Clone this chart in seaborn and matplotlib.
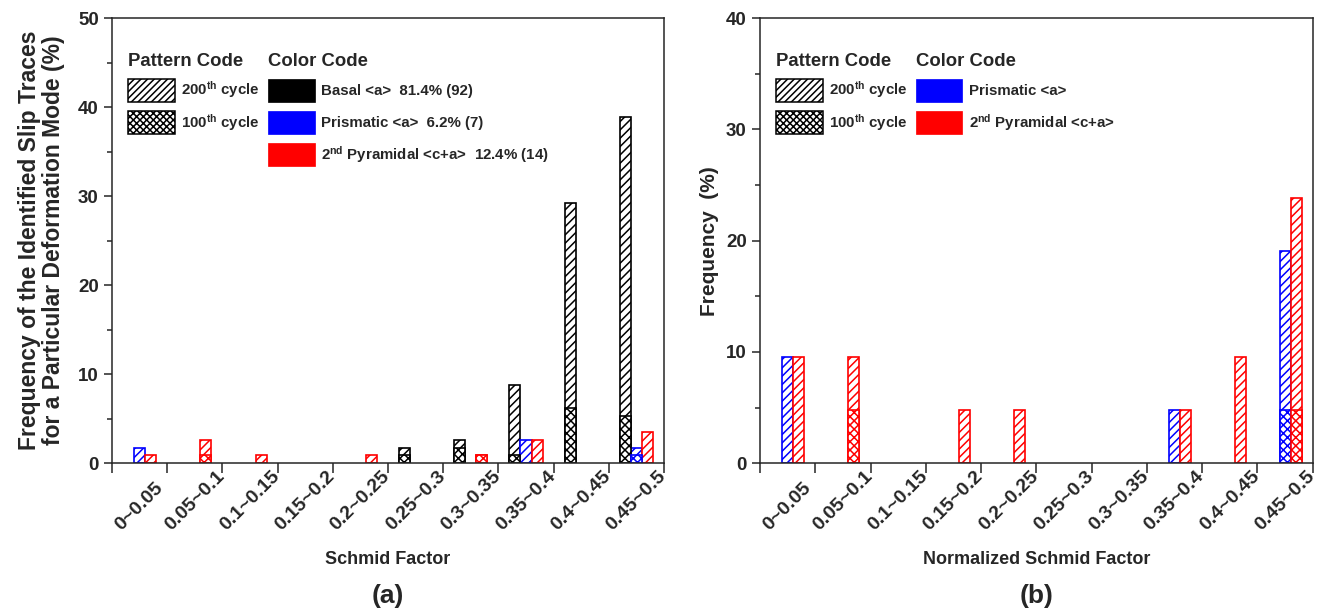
import numpy as np
import pandas as pd
import matplotlib
matplotlib.use("Agg")
import matplotlib.pyplot as plt
from matplotlib.patches import Patch
from matplotlib.ticker import MultipleLocator
import seaborn as sns

# ---- data -------------------------------------------------------------
bins = ["0~0.05", "0.05~0.1", "0.1~0.15", "0.15~0.2", "0.2~0.25",
        "0.25~0.3", "0.3~0.35", "0.35~0.4", "0.4~0.45", "0.45~0.5"]
modes = ["Basal", "Prismatic", "Pyramidal"]
mode_colors = {"Basal": "#000000", "Prismatic": "#0000FF", "Pyramidal": "#FF0000"}

# (a) share of all identified slip traces (113 traces), %
a_basal_200 = [0, 0, 0, 0, 0, 1.770, 2.655, 8.850, 29.204, 38.938]
a_basal_100 = [0, 0, 0, 0, 0, 0.885, 1.770, 0.885, 6.195, 5.310]
a_prism_200 = [1.770, 0, 0, 0, 0, 0, 0, 2.655, 0, 1.770]
a_prism_100 = [0, 0, 0, 0, 0, 0, 0, 0, 0, 0.885]
a_pyr_200 = [0.885, 2.655, 0.885, 0, 0.885, 0, 0.885, 2.655, 0, 3.540]
a_pyr_100 = [0, 0.885, 0, 0, 0, 0, 0.885, 0, 0, 0]

# (b) non-basal traces against normalized Schmid factor (21 traces), %
b_basal_200 = [0] * 10
b_basal_100 = [0] * 10
b_prism_200 = [9.524, 0, 0, 0, 0, 0, 0, 4.762, 0, 19.048]
b_prism_100 = [0, 0, 0, 0, 0, 0, 0, 0, 0, 4.762]
b_pyr_200 = [9.524, 9.524, 0, 4.762, 4.762, 0, 0, 4.762, 9.524, 23.810]
b_pyr_100 = [0, 4.762, 0, 0, 0, 0, 0, 0, 0, 4.762]

a_color_labels = ["Basal <a>  81.4% (92)", "Prismatic <a>  6.2% (7)",
                  r"2$^{\mathbf{nd}}$ Pyramidal <c+a>  12.4% (14)"]
b_color_labels = ["Prismatic <a>", r"2$^{\mathbf{nd}}$ Pyramidal <c+a>"]
cycle_labels = [r"200$^{\mathbf{th}}$ cycle", r"100$^{\mathbf{th}}$ cycle"]


def long_table(series):
    rows = []
    for (mode, cycle), vals in series.items():
        for b, v in zip(bins, vals):
            rows.append({"bin": b, "mode": mode, "cycle": cycle, "value": v})
    return pd.DataFrame(rows)


df_a = long_table({("Basal", "200"): a_basal_200, ("Basal", "100"): a_basal_100,
                   ("Prismatic", "200"): a_prism_200, ("Prismatic", "100"): a_prism_100,
                   ("Pyramidal", "200"): a_pyr_200, ("Pyramidal", "100"): a_pyr_100})
df_b = long_table({("Basal", "200"): b_basal_200, ("Basal", "100"): b_basal_100,
                   ("Prismatic", "200"): b_prism_200, ("Prismatic", "100"): b_prism_100,
                   ("Pyramidal", "200"): b_pyr_200, ("Pyramidal", "100"): b_pyr_100})

# ---- style ------------------------------------------------------------
sns.set_style("ticks")
plt.rcParams["font.family"] = ["Liberation Sans", "DejaVu Sans"]
plt.rcParams["font.weight"] = "bold"
plt.rcParams["mathtext.fontset"] = "custom"
plt.rcParams["mathtext.rm"] = "Liberation Sans:bold"
plt.rcParams["mathtext.bf"] = "Liberation Sans:bold"
plt.rcParams["mathtext.it"] = "Liberation Sans:bold:italic"
plt.rcParams["hatch.linewidth"] = 1.1
plt.rcParams["axes.linewidth"] = 1.1

fig = plt.figure(figsize=(13.24, 6.11), dpi=100)
ax_a = fig.add_axes([0.0846, 0.2417, 0.4169, 0.7288])
ax_b = fig.add_axes([0.5740, 0.2417, 0.4175, 0.7288])


def draw_bars(ax, df):
    # total for the 200th cycle first, then the 100th-cycle part over it
    for cycle, hatch in [("200", "////"), ("100", "xxxx")]:
        sub = df[df["cycle"] == cycle]
        n0 = len(ax.containers)
        sns.barplot(data=sub, x="bin", y="value", hue="mode", order=bins,
                    hue_order=modes, palette=mode_colors, width=0.6, dodge=True,
                    errorbar=None, legend=False, saturation=1, ax=ax)
        for cont, mode in zip(ax.containers[n0:], modes):
            for bar in cont:
                bar.set_facecolor("white")
                bar.set_edgecolor(mode_colors[mode])
                bar.set_hatch(hatch)
                bar.set_linewidth(1.2)
                if bar.get_height() <= 0:
                    bar.set_visible(False)


def style_axes(ax, ymax, xlabel, ylabel, ylabel_size, ylabel_x, panel):
    ax.set_xlim(-0.5, len(bins) - 0.5)
    ax.set_xticks(np.arange(-0.5, len(bins), 1.0))
    ax.set_xticklabels([])
    ax.set_xticks(np.arange(len(bins)), minor=True)
    ax.set_xticklabels(bins, minor=True, rotation=45, ha="center", va="bottom",
                       fontsize=14, fontweight="bold")
    ax.tick_params(axis="x", which="major", length=7, width=1.1, direction="out")
    ax.tick_params(axis="x", which="minor", length=0, pad=51)
    ax.set_ylim(0, ymax)
    ax.yaxis.set_major_locator(MultipleLocator(10))
    ax.yaxis.set_minor_locator(MultipleLocator(5))
    ax.tick_params(axis="y", which="major", length=6, width=1.1, labelsize=13.5)
    ax.tick_params(axis="y", which="minor", length=3.5, width=1.1)
    for lab in ax.get_yticklabels():
        lab.set_fontweight("bold")
    for s in ax.spines.values():
        s.set_visible(True)
        s.set_linewidth(1.1)
    ax.set_xlabel(xlabel, fontsize=13, fontweight="bold")
    ax.xaxis.set_label_coords(0.5, -0.197)
    ax.set_ylabel(ylabel, fontsize=ylabel_size, fontweight="bold", linespacing=1.05)
    ax.yaxis.set_label_coords(ylabel_x, 0.5)
    ax.text(0.5, -0.298, panel, transform=ax.transAxes, ha="center", va="center",
            fontsize=19, fontweight="bold")


def add_legends(ax, color_modes, color_labels, x_color):
    pat = [Patch(facecolor="white", edgecolor="black", hatch="/////", linewidth=1.1),
           Patch(facecolor="white", edgecolor="black", hatch="xxxxx", linewidth=1.1)]
    common = dict(loc="upper left", frameon=False, prop={"weight": "bold", "size": 10.8},
                  title_fontproperties={"weight": "bold", "size": 13.3},
                  handlelength=3.1, handleheight=2.0, handletextpad=0.45,
                  labelspacing=0.6, borderpad=0, borderaxespad=0, alignment="left")
    leg1 = ax.legend(pat, cycle_labels, title="Pattern Code",
                     bbox_to_anchor=(0.029, 0.922), **common)
    ax.add_artist(leg1)
    col = [Patch(facecolor=mode_colors[m], edgecolor=mode_colors[m], linewidth=0.5)
           for m in color_modes]
    ax.legend(col, color_labels, title="Color Code",
              bbox_to_anchor=(x_color, 0.922), **common)


draw_bars(ax_a, df_a)
draw_bars(ax_b, df_b)

style_axes(ax_a, 50, "Schmid Factor",
           "Frequency of the Identified Slip Traces\nfor a Particular Deformation Mode (%)",
           16.5, -0.085, "(a)")
style_axes(ax_b, 40, "Normalized Schmid Factor", "Frequency  (%)", 15, -0.074, "(b)")

add_legends(ax_a, modes, a_color_labels, 0.283)
add_legends(ax_b, ["Prismatic", "Pyramidal"], b_color_labels, 0.282)

fig.savefig("out.png", dpi=100)
